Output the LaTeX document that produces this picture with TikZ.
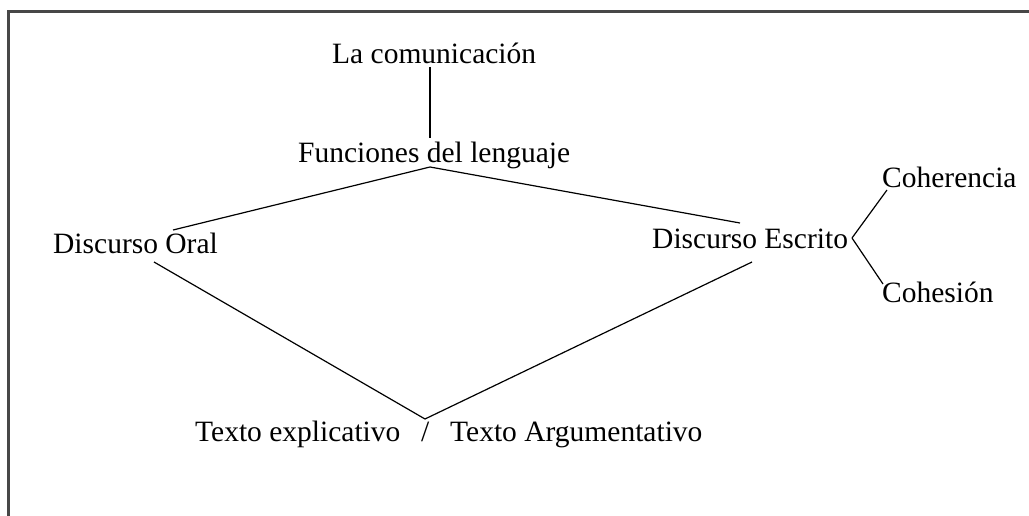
\documentclass[tikz,border=0pt]{standalone}
\usepackage{fontspec}
\setmainfont{Liberation Serif}
\begin{document}
\begin{tikzpicture}[x=1pt,y=-1pt,
  lbl/.style={anchor=base west,inner sep=0pt,font=\fontsize{29.5}{34}\selectfont},
  conn/.style={draw=black,line width=1.2pt},
  frame/.style={draw=black!72,line width=2.2pt}]
\useasboundingbox (0,0) rectangle (1029,516);
\draw[frame] (8.5,516) -- (8.5,11.5) -- (1029,11.5);
% nodes
\node[lbl] (lc) at (332,64) {La comunicación};
\node[lbl] (fun) at (298,163) {Funciones del lenguaje};
\node[lbl] (oral) at (53,254) {Discurso Oral};
\node[lbl] (escr) at (652,248) {Discurso Escrito};
\node[lbl] (coh) at (882,188) {Coherencia};
\node[lbl] (cohs) at (882,302) {Cohesión};
\node[lbl] (texp) at (195,441) {Texto explicativo};
\node[lbl] (slash) at (421,441) {/};
\node[lbl] (targ) at (450,441) {Texto Argumentativo};
% connection points
\coordinate (lc-bot) at (430,67);
\coordinate (fun-top) at (430,138);
\coordinate (fun-bot) at (430,167);
\coordinate (oral-top) at (173,230);
\coordinate (oral-bot) at (154,262);
\coordinate (escr-top) at (740,223);
\coordinate (escr-bot) at (752,262);
\coordinate (escr-right) at (852,238);
\coordinate (coh-left) at (887,190);
\coordinate (cohs-left) at (883,284);
\coordinate (slash-top) at (425,419);
% connectors
\draw[conn] (lc-bot) -- (fun-top);
\draw[conn] (fun-bot) -- (oral-top);
\draw[conn] (fun-bot) -- (escr-top);
\draw[conn] (oral-bot) -- (slash-top);
\draw[conn] (escr-bot) -- (slash-top);
\draw[conn] (escr-right) -- (coh-left);
\draw[conn] (escr-right) -- (cohs-left);
\end{tikzpicture}
\end{document}
